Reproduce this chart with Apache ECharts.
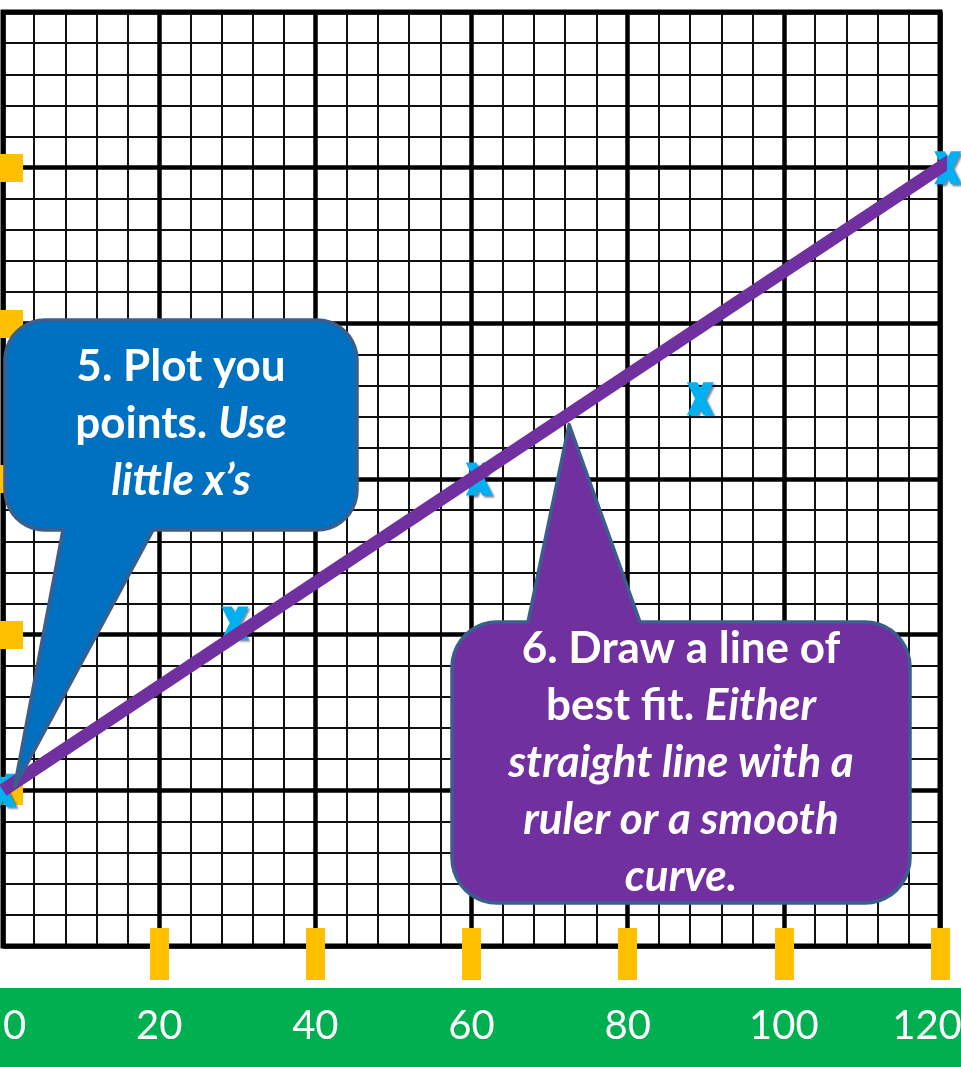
<!DOCTYPE html>
<html>
<head>
<meta charset="utf-8">
<script src="https://cdn.jsdelivr.net/npm/echarts@6/dist/echarts.min.js"></script>
<style>
  html, body { margin: 0; padding: 0; background: #fff; }
  #chart { width: 961px; height: 1067px; }
</style>
</head>
<body>
<div id="chart"></div>
<script>
// values
var xTicks = [0, 20, 40, 60, 80, 100, 120];
var markedX = [20, 40, 60, 80, 100, 120];
var markedY = [20, 40, 60, 80, 100];
var points = [[0, 20], [29.7, 41.5], [61, 60], [89.3, 70.3], [121, 100]];
var bestFit = [[0, 20], [121.5, 101]];
var note5 = '{b|5. Plot you}\n{b|points. }{i|Use}\n{i|little x\u2019s}';
var note6 = '{b|6. Draw a line of}\n{b|best fit. }{i|Either}\n{i|straight line with a}\n{i|ruler or a smooth}\n{i|curve.}';

var FONT = 'Lato, "Open Sans", sans-serif';
var richStyle = {
  b: { fill: '#fff', color: '#fff', fontFamily: FONT, fontSize: 44, fontWeight: 'bold', lineHeight: 57 },
  i: { fill: '#fff', color: '#fff', fontFamily: FONT, fontSize: 44, fontWeight: 'bold', fontStyle: 'italic', lineHeight: 57 }
};

var chart = echarts.init(document.getElementById('chart'));

var majorLine = { color: '#000', width: 4.5 };
var minorLine = { color: '#111', width: 2 };

// plain value axis with everything hidden, extra bits merged in
function axis(extra) {
  var a = {
    type: 'value', min: 0, max: 120, interval: 20,
    axisLine: { show: false }, axisTick: { show: false },
    axisLabel: { show: false }, splitLine: { show: false }
  };
  for (var k in extra) a[k] = extra[k];
  return a;
}

var option = {
  animation: false,
  backgroundColor: '#fff',
  grid: {
    left: 3, right: 21, top: 12, bottom: 121,
    containLabel: false, outerBoundsMode: 'none',
    show: true, borderColor: '#000', borderWidth: 5
  },
  xAxis: [
    axis({
      position: 'bottom', z: 1,
      axisLabel: {
        show: true, color: '#fff', fontSize: 40, fontFamily: FONT, margin: 60,
        alignMinLabel: 'left', customValues: xTicks,
        // last label sits a little left so it fits on the page
        formatter: function (v) { return v === 120 ? '{r|120}' : String(v); },
        rich: { r: { color: '#fff', fontSize: 40, fontFamily: FONT, padding: [0, 26, 0, 0] } }
      },
      splitLine: { show: true, lineStyle: majorLine }
    }),
    axis({ position: 'bottom', z: 0, interval: 4, splitLine: { show: true, lineStyle: minorLine } }),
    axis({
      position: 'bottom', offset: -18, z: 2,
      axisTick: { show: true, customValues: markedX, length: 52, lineStyle: { color: '#FFC000', width: 19 } }
    })
  ],
  yAxis: [
    axis({ position: 'left', z: 1, splitLine: { show: true, lineStyle: majorLine } }),
    axis({ position: 'left', z: 0, interval: 4, splitLine: { show: true, lineStyle: minorLine } }),
    axis({
      position: 'left', offset: -20, z: 2,
      axisTick: { show: true, customValues: markedY, length: 24, lineStyle: { color: '#FFC000', width: 28 } }
    })
  ],
  series: [
    {
      type: 'scatter', xAxisIndex: 0, yAxisIndex: 0, data: points, z: 3, clip: false,
      symbol: 'path://M0,0 L10,0 L13,6 L16,0 L26,0 L18,16 L26,32 L16,32 L13,26 L10,32 L0,32 L8,16 Z',
      symbolSize: [27, 33],
      itemStyle: { color: '#00B0F0', opacity: 1, shadowColor: 'rgba(0,40,80,0.55)', shadowOffsetX: 2, shadowOffsetY: 2, shadowBlur: 2 }
    },
    {
      type: 'line', xAxisIndex: 0, yAxisIndex: 0, data: bestFit, z: 4, clip: false,
      symbol: 'none', lineStyle: { color: '#7030A0', width: 13 }
    }
  ]
};
chart.setOption(option);

// speech bubble outline: rounded box with a pointer on the top or bottom edge
function bubble(x0, y0, x1, y1, r, edge, a, b, tip) {
  var pts = [];
  function arc(cx, cy, a0, a1) {
    for (var k = 0; k <= 10; k++) {
      var t = (a0 + (a1 - a0) * k / 10) * Math.PI / 180;
      pts.push([cx + r * Math.cos(t), cy + r * Math.sin(t)]);
    }
  }
  arc(x0 + r, y0 + r, 180, 270);
  if (edge === 'top') pts.push([a, y0], tip, [b, y0]);
  arc(x1 - r, y0 + r, 270, 360);
  arc(x1 - r, y1 - r, 0, 90);
  if (edge === 'bottom') pts.push([b, y1], tip, [a, y1]);
  arc(x0 + r, y1 - r, 90, 180);
  return pts;
}

var tip5 = chart.convertToPixel({ gridIndex: 0 }, [1.5, 20.5]);
var tip6 = chart.convertToPixel({ gridIndex: 0 }, [72.5, 67]);

chart.setOption({
  graphic: [
    { type: 'rect', z: -10, shape: { x: 0, y: 988, width: 961, height: 79 }, style: { fill: '#00B050' } },
    {
      type: 'polygon', z: 100,
      shape: { points: bubble(5, 320, 357, 530, 40, 'bottom', 63, 153, tip5) },
      style: { fill: '#0070C0', stroke: '#3A5F8F', lineWidth: 3.5, lineJoin: 'round' }
    },
    {
      type: 'text', z: 101,
      style: { text: note5, x: 181, y: 424, align: 'center', verticalAlign: 'middle', textAlign: 'center', textVerticalAlign: 'middle', fill: '#fff', rich: richStyle }
    },
    {
      type: 'polygon', z: 100,
      shape: { points: bubble(452, 622, 910, 903, 45, 'top', 528, 640, tip6) },
      style: { fill: '#7030A0', stroke: '#3A5F8F', lineWidth: 3.5, lineJoin: 'round' }
    },
    {
      type: 'text', z: 101,
      style: { text: note6, x: 681, y: 763, align: 'center', verticalAlign: 'middle', textAlign: 'center', textVerticalAlign: 'middle', fill: '#fff', rich: richStyle }
    }
  ]
});
</script>
</body>
</html>
